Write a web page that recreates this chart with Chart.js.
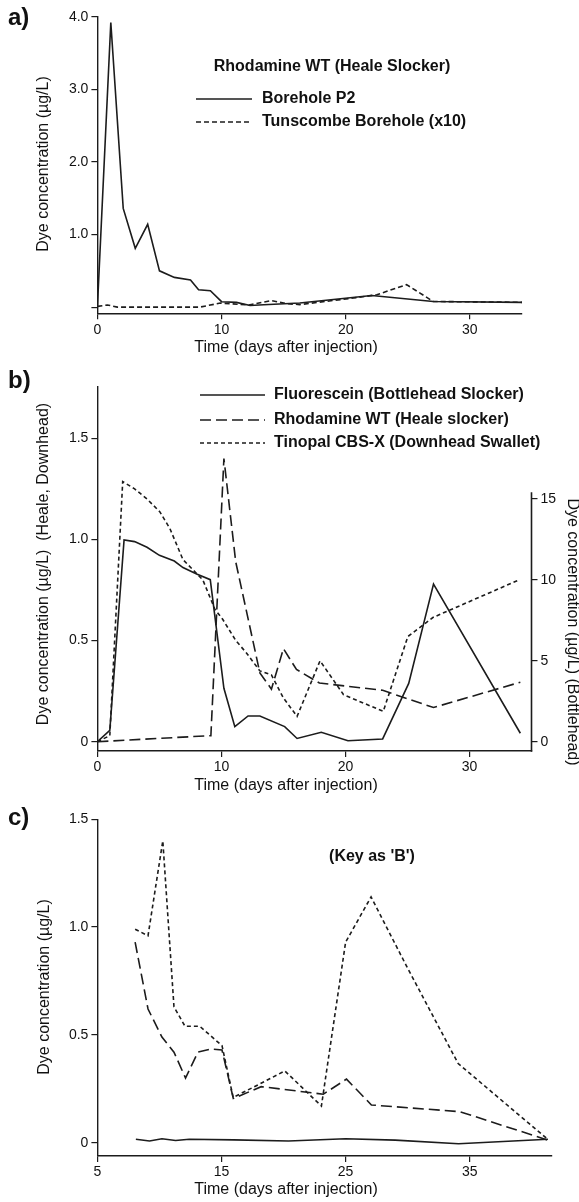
<!DOCTYPE html>
<html><head><meta charset="utf-8">
<script src="https://cdn.jsdelivr.net/npm/chart.js@4.4.1/dist/chart.umd.min.js"></script>
<style>
html,body{margin:0;padding:0;background:#fff;width:579px;height:1202px;overflow:hidden}
canvas{position:absolute;left:0}
</style></head><body>
<canvas id="ca" width="579" height="360" style="top:0;width:579px;height:360px"></canvas>
<canvas id="cb" width="579" height="440" style="top:360px;width:579px;height:440px"></canvas>
<canvas id="cc" width="579" height="402" style="top:800px;width:579px;height:402px"></canvas>
<script>
// ---------- DATA ----------
// Panel a
const aDaysP2 = [0, 1.08, 2.08, 3.05, 4.05, 5.0, 6.2, 7.5, 8.15, 9.1, 10.0, 11.2, 12.3, 13.4, 16.3, 22.1, 27.05, 34.2];
const aP2     = [0, 3.92, 1.36, 0.81, 1.14, 0.50, 0.41, 0.375, 0.24, 0.225, 0.075, 0.065, 0.023, 0.033, 0.056, 0.16, 0.078, 0.066];
const aDaysTun = [0, 0.8, 1.6, 8.25, 9.9, 12.2, 14.0, 15.3, 16.3, 20.6, 22.5, 24.9, 27.05, 34.2];
const aTun     = [0.01, 0.03, 0.0, 0.0, 0.056, 0.03, 0.09, 0.047, 0.035, 0.125, 0.17, 0.31, 0.078, 0.066];
const aXTicks = [0, 10, 20, 30];
const aXLabels = ['0', '10', '20', '30'];
const aYTicks = [0, 1, 2, 3, 4];
const aYLabels = ['', '1.0', '2.0', '3.0', '4.0'];
const aLegendTitle = 'Rhodamine WT (Heale Slocker)';
const aSeriesNames = ['Borehole P2', 'Tunscombe Borehole (x10)'];

// Panel b
const bDaysF = [0, 1.0, 2.15, 3.0, 4.0, 5.0, 6.2, 6.9, 8.0, 9.1, 10.2, 11.08, 12.15, 13.1, 15.1, 16.1, 18.05, 20.2, 23.0, 25.1, 27.1, 34.1];
const bFluor = [0, 0.7, 12.45, 12.35, 12.0, 11.5, 11.15, 10.75, 10.35, 10.0, 3.3, 0.93, 1.59, 1.59, 0.93, 0.2, 0.58, 0.06, 0.17, 3.6, 9.73, 0.52];
const bDaysR = [0, 9.15, 10.2, 11.15, 13.1, 14.03, 15.0, 16.05, 17.9, 23.0, 27.1, 34.1];
const bRhod  = [0, 0.03, 1.40, 0.89, 0.34, 0.26, 0.46, 0.357, 0.29, 0.254, 0.169, 0.294];
const bDaysT = [0, 1.0, 2.04, 3.0, 4.0, 5.04, 5.85, 6.9, 7.7, 8.5, 9.47, 10.1, 11.16, 12.0, 13.1, 14.03, 15.0, 16.1, 17.95, 19.85, 23.05, 25.03, 27.05, 34.0];
const bTino  = [0, 0.03, 1.286, 1.25, 1.20, 1.136, 1.053, 0.90, 0.85, 0.80, 0.655, 0.605, 0.50, 0.44, 0.35, 0.33, 0.216, 0.125, 0.40, 0.232, 0.15, 0.52, 0.614, 0.80];
const bXTicks = [0, 10, 20, 30];
const bXLabels = ['0', '10', '20', '30'];
const bYTicks = [0, 0.5, 1.0, 1.5];
const bYLabels = ['0', '0.5', '1.0', '1.5'];
const bY2Ticks = [0, 5, 10, 15];
const bY2Labels = ['0', '5', '10', '15'];
const bSeriesNames = ['Fluorescein (Bottlehead Slocker)', 'Rhodamine WT (Heale slocker)', 'Tinopal CBS-X (Downhead Swallet)'];

// Panel c
const cDaysF = [8.1, 9.2, 10.2, 11.3, 12.4, 16, 20.4, 25, 29, 34.1, 41.3];
const cFluor = [0.016, 0.008, 0.018, 0.01, 0.016, 0.013, 0.008, 0.018, 0.012, -0.005, 0.016];
const cDaysR = [8.04, 9.08, 10.2, 11.17, 12.1, 13.1, 14.15, 15.04, 15.95, 18.2, 23.2, 25.07, 27.08, 34.2, 41.3];
const cRhod  = [0.93, 0.62, 0.49, 0.42, 0.30, 0.42, 0.435, 0.43, 0.205, 0.26, 0.225, 0.295, 0.175, 0.144, 0.012];
const cDaysT = [8.04, 9.08, 10.27, 11.17, 12.06, 13.25, 15.04, 15.94, 18.0, 20.1, 23.05, 25.0, 27.05, 29.9, 34.07, 41.3];
const cTino  = [0.99, 0.96, 1.40, 0.63, 0.54, 0.54, 0.45, 0.21, 0.27, 0.333, 0.17, 0.93, 1.14, 0.82, 0.367, 0.015];
const cXTicks = [5, 15, 25, 35];
const cXLabels = ['5', '15', '25', '35'];
const cYTicks = [0, 0.5, 1.0, 1.5];
const cYLabels = ['0', '0.5', '1.0', '1.5'];
const cKeyText = "(Key as 'B')";

const xTitle = 'Time (days after injection)';
const yTitleA = 'Dye concentration (µg/L)';
const yTitleB = 'Dye concentration (µg/L)  (Heale, Downhead)';
const yTitleB2 = 'Dye concentration (µg/L) (Bottlehead)';
const yTitleC = 'Dye concentration (µg/L)';
const panelLabels = ['a)', 'b)', 'c)'];

// ---------- STYLE / HELPERS ----------
const FONT = "'Liberation Sans', Arial, Helvetica, sans-serif";
const INK = '#1c1c1c';
const DASH_SHORT = [4, 3];
const DASH_MED = [5, 3];
const DASH_LONG = [11, 5];

function pts(xs, ys) { return xs.map((x, i) => ({ x: x, y: ys[i] })); }
function setTicks(vals) { return s => { s.ticks = vals.map(v => ({ value: v })); }; }

function xScale(min, max, tickVals, labels, height) {
  return {
    type: 'linear', position: 'bottom', min: min, max: max,
    afterBuildTicks: setTicks(tickVals),
    afterFit: s => { s.height = height; },
    grid: { display: true, drawOnChartArea: false, drawTicks: true, tickLength: 6, color: INK, lineWidth: 1.2 },
    border: { display: true, color: INK, width: 1.4 },
    ticks: { font: { family: FONT, size: 14 }, color: '#111', padding: 2, maxRotation: 0, autoSkip: false,
             callback: (v, i) => labels[i] }
  };
}
function yScale(pos, min, max, tickVals, labels, width, showBorder) {
  return {
    type: 'linear', position: pos, min: min, max: max,
    afterBuildTicks: setTicks(tickVals),
    afterFit: s => { s.width = width; },
    grid: { display: true, drawOnChartArea: false, drawTicks: true, tickLength: 6, color: INK, lineWidth: 1.2 },
    border: { display: showBorder, color: INK, width: 1.4 },
    ticks: { font: { family: FONT, size: 14 }, color: '#111', padding: 3, autoSkip: false,
             callback: (v, i) => labels[i] }
  };
}

const extrasPlugin = {
  id: 'extras',
  afterDraw(chart, args, opts) {
    const ctx = chart.ctx;
    ctx.save();
    (opts.lines || []).forEach(l => {
      ctx.beginPath();
      ctx.strokeStyle = INK;
      ctx.lineWidth = l.w || 1.6;
      ctx.setLineDash(l.dash || []);
      ctx.moveTo(l.x1, l.y1); ctx.lineTo(l.x2, l.y2);
      ctx.stroke();
    });
    ctx.setLineDash([]);
    if (opts.rightAxis) {
      const s = chart.scales[opts.rightAxis.id];
      ctx.beginPath();
      ctx.strokeStyle = INK; ctx.lineWidth = 1.6;
      ctx.moveTo(s.left, s.getPixelForValue(opts.rightAxis.from));
      ctx.lineTo(s.left, chart.chartArea.bottom + 0.7);
      ctx.stroke();
    }
    (opts.texts || []).forEach(t => {
      ctx.save();
      ctx.font = t.font;
      ctx.fillStyle = '#111';
      ctx.textAlign = t.align || 'center';
      ctx.textBaseline = t.baseline || 'middle';
      ctx.translate(t.x, t.y);
      if (t.rot) ctx.rotate(t.rot);
      ctx.fillText(t.text, 0, 0);
      ctx.restore();
    });
    ctx.restore();
  }
};

const baseDs = { pointRadius: 0, borderWidth: 1.6, borderColor: INK, tension: 0, fill: false, borderJoinStyle: 'miter' };
const commonOpts = {
  responsive: false, animation: false, devicePixelRatio: 1,
  plugins: { legend: { display: false }, tooltip: { enabled: false } }
};
const B16 = 'bold 16px ' + FONT;
const R16 = '16px ' + FONT;
const LBL = 'bold 24px ' + FONT;

// ---------- PANEL A ----------
new Chart(document.getElementById('ca'), {
  type: 'line',
  data: { datasets: [
    Object.assign({}, baseDs, { label: aSeriesNames[0], data: pts(aDaysP2, aP2) }),
    Object.assign({}, baseDs, { label: aSeriesNames[1], data: pts(aDaysTun, aTun), borderDash: DASH_MED })
  ] },
  options: Object.assign({}, commonOpts, {
    layout: { padding: { left: 0, right: 57, top: 16.7, bottom: 0 } },
    scales: {
      x: xScale(0, 34.2, aXTicks, aXLabels, 46.7),
      y: yScale('left', -0.085, 4.0, aYTicks, aYLabels, 97.4, true)
    },
    plugins: Object.assign({}, commonOpts.plugins, { extras: {
      lines: [
        { x1: 196, y1: 99, x2: 252, y2: 99 },
        { x1: 196, y1: 122, x2: 252, y2: 122, dash: DASH_MED }
      ],
      texts: [
        { text: panelLabels[0], x: 8, y: 25, font: LBL, align: 'left', baseline: 'alphabetic' },
        { text: yTitleA, x: 44, y: 164, rot: -Math.PI / 2, font: R16 },
        { text: xTitle, x: 286, y: 348, font: R16 },
        { text: aLegendTitle, x: 332, y: 67, font: B16 },
        { text: aSeriesNames[0], x: 262, y: 99, font: B16, align: 'left' },
        { text: aSeriesNames[1], x: 262, y: 122, font: B16, align: 'left' }
      ]
    } })
  }),
  plugins: [extrasPlugin]
});

// ---------- PANEL B ----------
new Chart(document.getElementById('cb'), {
  type: 'line',
  data: { datasets: [
    Object.assign({}, baseDs, { label: bSeriesNames[0], data: pts(bDaysF, bFluor), yAxisID: 'yR' }),
    Object.assign({}, baseDs, { label: bSeriesNames[1], data: pts(bDaysR, bRhod), yAxisID: 'y', borderDash: DASH_LONG }),
    Object.assign({}, baseDs, { label: bSeriesNames[2], data: pts(bDaysT, bTino), yAxisID: 'y', borderDash: DASH_SHORT })
  ] },
  options: Object.assign({}, commonOpts, {
    layout: { padding: { left: 0, right: 0, top: 26.7, bottom: 0 } },
    scales: {
      x: xScale(0, 35, bXTicks, bXLabels, 49),
      y: yScale('left', -0.046, 1.755, bYTicks, bYLabels, 97.4, true),
      yR: yScale('right', -0.574, 21.91, bY2Ticks, bY2Labels, 47.5, false)
    },
    plugins: Object.assign({}, commonOpts.plugins, { extras: {
      rightAxis: { id: 'yR', from: 15.4 },
      lines: [
        { x1: 200, y1: 35, x2: 265, y2: 35 },
        { x1: 200, y1: 60, x2: 265, y2: 60, dash: DASH_LONG },
        { x1: 200, y1: 83, x2: 265, y2: 83, dash: DASH_SHORT }
      ],
      texts: [
        { text: panelLabels[1], x: 8, y: 28, font: LBL, align: 'left', baseline: 'alphabetic' },
        { text: yTitleB, x: 44, y: 204, rot: -Math.PI / 2, font: R16 },
        { text: yTitleB2, x: 572, y: 272, rot: Math.PI / 2, font: R16 },
        { text: xTitle, x: 286, y: 426, font: R16 },
        { text: bSeriesNames[0], x: 274, y: 35, font: B16, align: 'left' },
        { text: bSeriesNames[1], x: 274, y: 60, font: B16, align: 'left' },
        { text: bSeriesNames[2], x: 274, y: 83, font: B16, align: 'left' }
      ]
    } })
  }),
  plugins: [extrasPlugin]
});

// ---------- PANEL C ----------
new Chart(document.getElementById('cc'), {
  type: 'line',
  data: { datasets: [
    Object.assign({}, baseDs, { label: bSeriesNames[0], data: pts(cDaysF, cFluor) }),
    Object.assign({}, baseDs, { label: bSeriesNames[1], data: pts(cDaysR, cRhod), borderDash: DASH_LONG }),
    Object.assign({}, baseDs, { label: bSeriesNames[2], data: pts(cDaysT, cTino), borderDash: DASH_SHORT })
  ] },
  options: Object.assign({}, commonOpts, {
    layout: { padding: { left: 0, right: 27, top: 19.3, bottom: 0 } },
    scales: {
      x: xScale(5, 41.63, cXTicks, cXLabels, 46),
      y: yScale('left', -0.0617, 1.5, cYTicks, cYLabels, 97.4, true)
    },
    plugins: Object.assign({}, commonOpts.plugins, { extras: {
      texts: [
        { text: panelLabels[2], x: 8, y: 25, font: LBL, align: 'left', baseline: 'alphabetic' },
        { text: yTitleC, x: 45, y: 187, rot: -Math.PI / 2, font: R16 },
        { text: xTitle, x: 286, y: 390, font: R16 },
        { text: cKeyText, x: 372, y: 57, font: B16 }
      ]
    } })
  }),
  plugins: [extrasPlugin]
});
</script>
</body></html>
